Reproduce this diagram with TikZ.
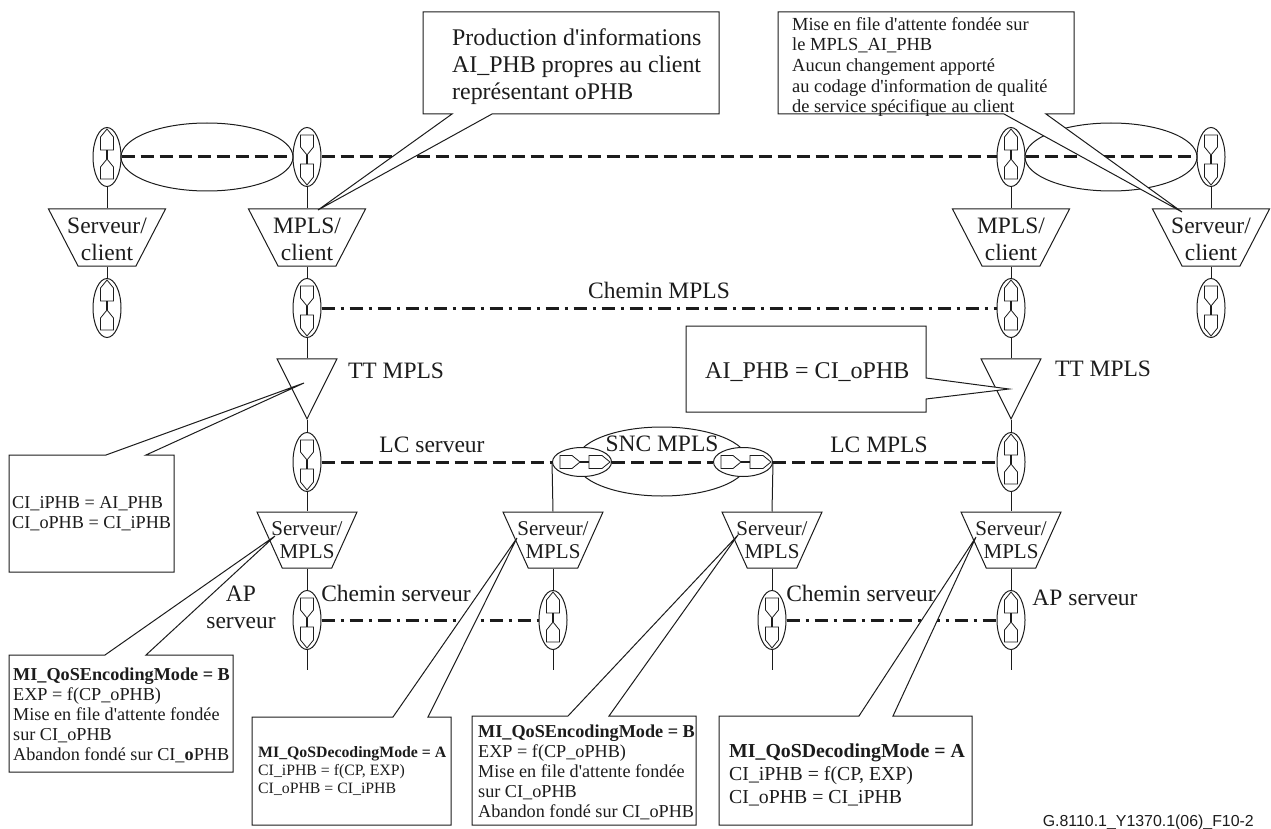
\documentclass[tikz,border=0pt]{standalone}
\usepackage{fontspec}
\setmainfont{Liberation Serif}[Ligatures=TeXOff]
\newfontfamily\refsans{Liberation Sans}
\usetikzlibrary{shapes.geometric}
\definecolor{ink}{HTML}{1C1C1C}
\tikzstyle{wire} = [draw=ink,line width=1pt]
\tikzstyle{lc} = [draw=ink,line width=3pt,dash pattern=on 13pt off 6pt]
\tikzstyle{path} = [draw=ink,line width=3pt,dash pattern=on 13pt off 6pt on 3pt off 6pt]
\tikzstyle{port} = [ellipse,draw=ink,line width=1pt,inner sep=0pt,minimum width=28pt,minimum height=59pt]
\tikzstyle{snc} = [port,fill=white,minimum width=59pt,minimum height=29pt]
\tikzstyle{assoc} = [ellipse,draw=ink,line width=1pt,inner sep=0pt]
\tikzstyle{glyph} = [draw=ink,line width=.8pt]
\tikzstyle{stem} = [draw=ink,line width=1.6pt]
\tikzstyle{trapbig} = [trapezium,draw=ink,line width=1pt,shape border rotate=180,trapezium stretches=true,trapezium left angle=63,trapezium right angle=63,inner sep=2pt,minimum width=117pt,minimum height=57pt]
\tikzstyle{trapsmall} = [trapbig,minimum width=100pt,minimum height=56pt]
\tikzstyle{tt} = [isosceles triangle,draw=ink,line width=1pt,shape border rotate=-90,isosceles triangle apex angle=53,inner sep=2pt,minimum height=60pt,anchor=apex]
\tikzstyle{callout} = [draw=ink,fill=white,line width=1pt,line join=miter]
\tikzstyle{big} = [align=center,inner sep=0pt,text=ink,font=\fontsize{23.5}{27}\selectfont]
\tikzstyle{bigtrap} = [big,yshift=-2pt]
\tikzstyle{mid} = [align=center,inner sep=0pt,text=ink,font=\fontsize{21}{23.5}\selectfont]
\tikzstyle{note} = [align=left,anchor=west,inner sep=0pt,text=ink,font=\fontsize{18.2}{20}\selectfont]

% two terminations back to back, drawn pointing down when not rotated
\newcommand{\tcpglyph}[3]{
  \begin{scope}[shift={(#1,#2)},rotate=#3]
    \draw[glyph] (-6.5,-22) -- (6.5,-22) -- (6.5,-10) -- (0,-2) -- (-6.5,-10) -- cycle;
    \draw[glyph] (-6.5,7) -- (6.5,7) -- (6.5,20) -- (0,28) -- (-6.5,20) -- cycle;
    \draw[stem] (0,-2) -- (0,7);
  \end{scope}}
\newcommand{\tcp}[4]{\node[port] (#1) at (#2,#3) {}; \tcpglyph{#2}{#3}{#4}}

\begin{document}
\begin{tikzpicture}[x=1pt,y=-1pt]
    \useasboundingbox (0,0) rectangle (1271,829);

    % links
    \node[assoc,minimum width=172pt,minimum height=68pt] (linkl) at (207,157) {};
    \node[assoc,minimum width=172pt,minimum height=68pt] (linkr) at (1111,157) {};
    \node[assoc,minimum width=172pt,minimum height=69pt] (sncl) at (662,461.5) {};

    % upper row
    \tcp{upa}{107}{157}{180};
    \tcp{upb}{307}{157}{0};
    \tcp{upc}{1011}{157}{180};
    \tcp{upd}{1211}{157}{0};
    \tcp{cla}{107}{308}{180};
    \tcp{clb}{307}{308}{0};
    \tcp{clc}{1011}{308}{180};
    \tcp{cld}{1211}{308}{0};

    \node[trapbig,label={[bigtrap]center:{Serveur/\\client}}] (sca) at (107,237.5) {};
    \node[trapbig,label={[bigtrap]center:{MPLS/\\client}}] (scb) at (307,237.5) {};
    \node[trapbig,label={[bigtrap]center:{MPLS/\\client}}] (scc) at (1011,237.5) {};
    \node[trapbig,label={[bigtrap]center:{Serveur/\\client}}] (scd) at (1211,237.5) {};

    \draw[wire] (upa) -- (sca.north);
    \draw[wire] (upb) -- (scb.north);
    \draw[wire] (upc) -- (scc.north);
    \draw[wire] (upd) -- (scd.north);
    \draw[wire] (sca.south) -- (cla);
    \draw[wire] (scb.south) -- (clb);
    \draw[wire] (scc.south) -- (clc);
    \draw[wire] (scd.south) -- (cld);

    \draw[lc] (upa.east) -- (upb.west);
    \draw[lc] (upb.east) -- (upc.west);
    \draw[lc] (upc.east) -- (upd.west);
    \draw[path] (clb.east) -- (clc.west);

    % adaptation and trail termination
    \node[tt] (tta) at (307,420) {};
    \node[tt] (ttb) at (1011,420) {};
    \draw[wire] (clb) -- (tta.lower side);
    \draw[wire] (clc) -- (ttb.lower side);

    \tcp{lca}{307}{462}{0};
    \tcp{lcb}{1011}{462}{180};
    \draw[wire] (tta.apex) -- (lca);
    \draw[wire] (ttb.apex) -- (lcb);

    \node[snc] (snca) at (582,462) {};
    \tcpglyph{582}{462}{90};
    \node[snc] (sncb) at (743,462) {};
    \tcpglyph{743}{462}{90};
    \draw[lc] (lca.east) -- (snca.west);
    \draw[lc] (snca.east) -- (sncb.west);
    \draw[lc] (sncb.east) -- (lcb.west);

    % server layer
    \node[trapsmall,label={[mid]center:{Serveur/\\MPLS}}] (sma) at (307,540) {};
    \node[trapsmall,label={[mid]center:{Serveur/\\MPLS}}] (smb) at (553,540) {};
    \node[trapsmall,label={[mid]center:{Serveur/\\MPLS}}] (smc) at (772,540) {};
    \node[trapsmall,label={[mid]center:{Serveur/\\MPLS}}] (smd) at (1011,540) {};

    \tcp{apa}{307}{620}{0};
    \tcp{apb}{553}{620}{180};
    \tcp{apc}{772}{620}{0};
    \tcp{apd}{1011}{620}{180};
    \coordinate (enda) at (307,670);
    \coordinate (endb) at (553,670);
    \coordinate (endc) at (772,670);
    \coordinate (endd) at (1011,670);

    \draw[wire] (lca) -- (sma.north);
    \draw[wire] (snca.west) -- (smb.north);
    \draw[wire] (sncb.east) -- (smc.north);
    \draw[wire] (lcb) -- (smd.north);
    \draw[wire] (sma.south) -- (apa);
    \draw[wire] (smb.south) -- (apb);
    \draw[wire] (smc.south) -- (apc);
    \draw[wire] (smd.south) -- (apd);
    \draw[wire] (apa) -- (enda);
    \draw[wire] (apb) -- (endb);
    \draw[wire] (apc) -- (endc);
    \draw[wire] (apd) -- (endd);

    \draw[path] (apa.east) -- (apb.west);
    \draw[path] (apc.east) -- (apd.west);

    % callouts
    \filldraw[callout] (423,12) -- (719,12) -- (719,114) -- (492,114) -- (318,210) -- (452,114) -- (423,114) -- cycle;
    \filldraw[callout] (778,12) -- (1074,12) -- (1074,114) -- (1046,114) -- (1182,212) -- (1004,114) -- (778,114) -- cycle;
    \filldraw[callout] (9,455) -- (106,455) -- (304,383) -- (146,455) -- (174,455) -- (174,572) -- (9,572) -- cycle;
    \filldraw[callout] (686,326) -- (926,326) -- (926,378) -- (1009,389) -- (926,399) -- (926,412) -- (686,412) -- cycle;
    \filldraw[callout] (9,655) -- (105,655) -- (275,536) -- (146,655) -- (233,655) -- (233,772) -- (9,772) -- cycle;
    \filldraw[callout] (252,717) -- (393,717) -- (517,538) -- (428,717) -- (451,717) -- (451,825) -- (252,825) -- cycle;
    \filldraw[callout] (472,716) -- (568,716) -- (738,535) -- (609,716) -- (696,716) -- (696,825) -- (472,825) -- cycle;
    \filldraw[callout] (719,716) -- (859,716) -- (976,537) -- (893,716) -- (972,716) -- (972,825) -- (719,825) -- cycle;

    \node[note,font=\fontsize{23.9}{27}\selectfont] (prod) at (452,66.5) {Production d'informations\\AI\_PHB propres au client\\représentant oPHB};
    \node[note,font=\fontsize{18.45}{20.7}\selectfont] (queue) at (792,67) {Mise en file d'attente fondée sur\\le MPLS\_AI\_PHB\\Aucun changement apporté\\au codage d'information de qualité\\de service spécifique au client};
    \node[note] (map) at (12,514) {CI\_iPHB = AI\_PHB\\CI\_oPHB = CI\_iPHB};
    \node[note,font=\fontsize{24}{27}\selectfont] (aiphb) at (705,372) {AI\_PHB = CI\_oPHB};
    \node[note] (enca) at (13,715) {\textbf{MI\_QoSEncodingMode = B}\\EXP = f(CP\_oPHB)\\Mise en file d'attente fondée\\sur CI\_oPHB\\Abandon fondé sur CI\_\textbf{o}PHB};
    \node[note,font=\fontsize{15.8}{18}\selectfont] (deca) at (258,771) {\textbf{MI\_QoSDecodingMode = A}\\CI\_iPHB = f(CP, EXP)\\CI\_oPHB = CI\_iPHB};
    \node[note] (encb) at (478,772) {\textbf{MI\_QoSEncodingMode = B}\\EXP = f(CP\_oPHB)\\Mise en file d'attente fondée\\sur CI\_oPHB\\Abandon fondé sur CI\_oPHB};
    \node[note,font=\fontsize{19.8}{23}\selectfont] (decb) at (729,775) {\textbf{MI\_QoSDecodingMode = A}\\CI\_iPHB = f(CP, EXP)\\CI\_oPHB = CI\_iPHB};

    % labels
    \node[big] (chmpls) at (659,290) {Chemin MPLS};
    \node[big] (ttl) at (396,371) {TT MPLS};
    \node[big] (ttr) at (1103,369) {TT MPLS};
    \node[big] (lcs) at (432,445) {LC serveur};
    \node[big] (lcm) at (879,445) {LC MPLS};
    \node[big] (sncm) at (662,444) {SNC MPLS};
    \node[big] (aps) at (241,607) {AP\\serveur};
    \node[big] (chsl) at (396,593) {Chemin serveur};
    \node[big] (chsr) at (861,593) {Chemin serveur};
    \node[big] (apr) at (1085,598) {AP serveur};
    \node[anchor=east,inner sep=0pt,text=ink,font=\refsans\fontsize{15.9}{16}\selectfont] (figref) at (1254,822) {G.8110.1\_Y1370.1(06)\_F10-2};
\end{tikzpicture}
\end{document}
